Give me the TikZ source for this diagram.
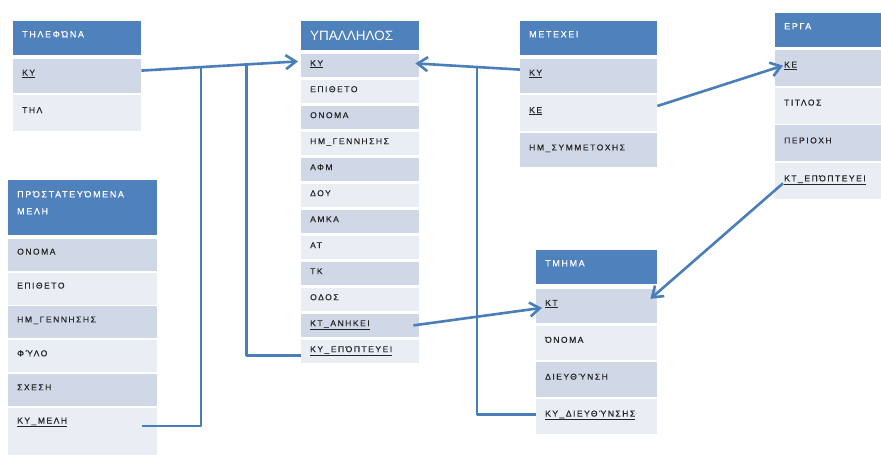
\documentclass[tikz,border=0pt]{standalone}
\usepackage{fontspec}
\setmainfont{Liberation Sans}
\newfontfamily\cellfont[LetterSpace=18,FakeBold=0.6]{Liberation Sans}
\usetikzlibrary{positioning,arrows.meta}
\definecolor{headblue}{RGB}{79,129,189}
\definecolor{rowdark}{RGB}{208,216,232}
\definecolor{rowlight}{RGB}{233,237,244}
\definecolor{linkblue}{RGB}{74,126,187}
\tikzset{
  cell/.style={anchor=north west, inner xsep=9pt, inner ysep=0pt, align=left,
    text=black!85, font=\cellfont\fontsize{8.5}{10}\selectfont},
  dark/.style={cell, fill=rowdark},
  light/.style={cell, fill=rowlight},
  head/.style={cell, fill=headblue, text=white,
    font=\cellfont\fontsize{9}{17}\selectfont, text height=7pt, text depth=8.6pt},
  link/.style={draw=linkblue, line width=2.6pt, line join=round},
  fk/.style={link, -{Straight Barb[length=10pt,width=14pt]}}
}
\begin{document}
\begin{tikzpicture}[x=1pt,y=-1pt]
\useasboundingbox (0,0) rectangle (881,455);
            % tables
\begin{scope}[nodes={text width=110pt, minimum height=34pt, text height=6pt, text depth=6pt}]
  \node[head] (tel) at (13,21) {ΤΗΛΕΦΏΝΑ};
  \node[dark, below=3pt of tel] (tel-ky) {\underline{ΚΥ}};
  \node[light, below=2pt of tel-ky, minimum height=36pt] (tel-til) {ΤΗΛ};
\end{scope}
\begin{scope}[nodes={text width=100pt, minimum height=23.6pt, text height=6pt, text depth=4.5pt}]
  \node[head, minimum height=29pt, font=\fontsize{13.5}{16}\selectfont,
        text height=10pt, text depth=1.4pt] (yp) at (301,21) {ΥΠΑΛΛΗΛΟΣ};
  \node[dark, below=3pt of yp] (yp-ky) {\underline{ΚΥ}};
  \node[light, below=2pt of yp-ky] (yp-epi) {ΕΠΙΘΕΤΟ};
  \node[dark, below=2pt of yp-epi] (yp-ono) {ΟΝΟΜΑ};
  \node[light, below=2pt of yp-ono] (yp-hmg) {ΗΜ\_ΓΕΝΝΗΣΗΣ};
  \node[dark, below=2pt of yp-hmg] (yp-afm) {ΑΦΜ};
  \node[light, below=2pt of yp-afm] (yp-doy) {ΔΟΥ};
  \node[dark, below=2pt of yp-doy] (yp-amka) {ΑΜΚΑ};
  \node[light, below=2pt of yp-amka] (yp-at) {ΑΤ};
  \node[dark, below=2pt of yp-at] (yp-tk) {ΤΚ};
  \node[light, below=2pt of yp-tk] (yp-odos) {ΟΔΟΣ};
  \node[dark, below=2pt of yp-odos] (yp-ktan) {\underline{ΚΤ\_ΑΝΗΚΕΙ}};
  \node[light, below=2pt of yp-ktan] (yp-kyep) {\underline{ΚΥ\_ΕΠΌΠΤΕΥΕΙ}};
\end{scope}
\begin{scope}[nodes={text width=119pt, minimum height=34pt, text height=6pt, text depth=6pt}]
  \node[head] (met) at (520,21) {ΜΕΤΕΧΕΙ};
  \node[dark, below=3pt of met] (met-ky) {\underline{ΚΥ}};
  \node[light, below=2pt of met-ky, minimum height=36pt] (met-ke) {\underline{ΚΕ}};
  \node[dark, below=2pt of met-ke] (met-hms) {ΗΜ\_ΣΥΜΜΕΤΟΧΗΣ};
\end{scope}
\begin{scope}[nodes={text width=88pt, minimum height=36pt, text height=6pt, text depth=6pt}]
  \node[head, minimum height=34pt] (erga) at (775,13) {ΕΡΓΑ};
  \node[dark, below=2pt of erga] (erga-ke) {\underline{ΚΕ}};
  \node[light, below=1.5pt of erga-ke] (erga-tit) {ΤΙΤΛΟΣ};
  \node[dark, below=1.5pt of erga-tit] (erga-per) {ΠΕΡΙΟΧΗ};
  \node[light, below=1.5pt of erga-per] (erga-ktep) {\underline{ΚΤ\_ΕΠΌΠΤΕΥΕΙ}};
\end{scope}
\begin{scope}[nodes={text width=131pt, minimum height=32pt, text height=6pt, text depth=6pt}]
  \node[head, minimum height=55pt, text depth=27.6pt] (pm) at (8,180)
    {ΠΡΌΣΤΑΤΕΥΌΜΕΝΑ\\ΜΕΛΗ};
  \node[dark, below=3pt of pm] (pm-ono) {ΟΝΟΜΑ};
  \node[light, below=1.5pt of pm-ono] (pm-epi) {ΕΠΙΘΕΤΟ};
  \node[dark, below=1.5pt of pm-epi] (pm-hmg) {ΗΜ\_ΓΕΝΝΗΣΗΣ};
  \node[light, below=1.5pt of pm-hmg] (pm-fylo) {ΦΎΛΟ};
  \node[dark, below=1.5pt of pm-fylo] (pm-sxesi) {ΣΧΕΣΗ};
  \node[light, below=1.5pt of pm-sxesi, minimum height=50pt, text depth=25.2pt]
    (pm-kymeli) {\underline{ΚΥ\_ΜΕΛΗ}};
\end{scope}
\begin{scope}[nodes={text width=103pt, minimum height=34.5pt, text height=6pt, text depth=6pt}]
  \node[head, minimum height=34pt] (tm) at (536,250) {ΤΜΗΜΑ};
  \node[dark, below=4pt of tm] (tm-kt) {\underline{ΚΤ}};
  \node[light, below=2pt of tm-kt] (tm-ono) {ΌΝΟΜΑ};
  \node[dark, below=2pt of tm-ono] (tm-dieu) {ΔΙΕΥΘΎΝΣΗ};
  \node[light, below=2pt of tm-dieu] (tm-kyd) {\underline{ΚΥ\_ΔΙΕΥΘΎΝΣΗΣ}};
\end{scope}
            % keys
\draw[fk] ([yshift=5pt]tel-ky.east) -- ([xshift=-3pt,yshift=4pt]yp-ky.west)
  coordinate[pos=.38] (tel-j) coordinate[pos=.67] (yp-j);
\draw[link] ([xshift=-15pt,yshift=7pt]pm-kymeli.east) -| (tel-j);
\draw[link] ([yshift=-4pt]yp-kyep.west) -| (yp-j);
\draw[fk] ([yshift=6pt]met-ky.west) -- ([xshift=-4pt,yshift=2pt]yp-ky.east)
  coordinate[pos=.41] (met-j);
\draw[link] ([yshift=2pt]tm-kyd.west) -| (met-j);
\draw[fk] ([xshift=-6pt]yp-ktan.east) -- ([xshift=6pt,yshift=-2pt]tm-kt.west);
\draw[fk] ([yshift=7pt]met-ke.east) -- ([xshift=8pt,yshift=2pt]erga-ke.west);
\draw[fk] ([xshift=8pt,yshift=-2pt]erga-ktep.west) -- ([xshift=-7pt,yshift=7pt]tm-kt.east);
\end{tikzpicture}
\end{document}
